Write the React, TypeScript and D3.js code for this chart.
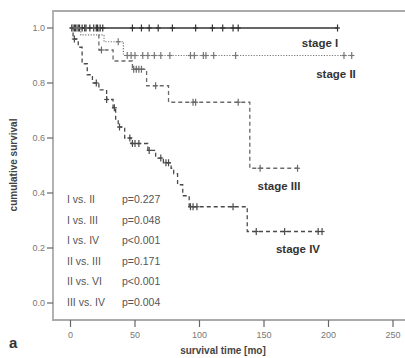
import React from 'react';
import { scaleLinear, line, curveStepAfter } from 'd3';

// survival steps: [time (mo), cumulative survival from that time on]
const stage1Steps = [[0, 1.0]];
const stage1End = 207;
const stage1Censor = [1, 3, 4, 6, 7, 9, 11, 12, 15, 18, 20, 21, 23, 25, 48, 55, 61, 68, 79, 97, 110, 118, 126, 130, 207];

const stage2Steps = [[0, 1.0], [8, 0.975], [26, 0.95], [41, 0.9]];
const stage2End = 220;
const stage2Censor = [2, 5, 37, 44, 47, 50, 56, 60, 65, 70, 77, 93, 96, 103, 105, 111, 128, 212, 218];

const stage3Steps = [[0, 1.0], [22, 0.92], [33, 0.88], [48, 0.85], [59, 0.79], [76, 0.73], [139, 0.49]];
const stage3End = 176;
const stage3Censor = [24, 49, 51, 53, 55, 66, 95, 97, 130, 147, 176];

const stage4Steps = [
  [0, 1.0], [2, 0.96], [6, 0.93], [9, 0.87], [13, 0.83], [17, 0.8], [22, 0.775], [28, 0.74],
  [33, 0.71], [35, 0.665], [37, 0.64], [42, 0.6], [47, 0.58], [60, 0.555], [66, 0.527],
  [72, 0.51], [78, 0.49], [80, 0.47], [83, 0.43], [87, 0.39], [92, 0.35], [137, 0.26],
];
const stage4End = 195;
const stage4Censor = [3, 20, 28, 34, 38, 46, 48, 50, 53, 61, 70, 74, 76, 93, 95, 98, 126, 144, 166, 192, 195];

const xTicks = [0, 50, 100, 150, 200, 250];
const yTicks = [0, 0.2, 0.4, 0.6, 0.8, 1.0];

const comparisons = ['I vs. II', 'I vs. III', 'I vs. IV', 'II vs. III', 'II vs. VI', 'III vs. IV'];
const pValues = ['p=0.227', 'p=0.048', 'p<0.001', 'p=0.171', 'p<0.001', 'p=0.004'];

const curves = [
  { name: 'stage I', steps: stage1Steps, end: stage1End, censor: stage1Censor, color: '#333', dash: null, width: 1.5 },
  { name: 'stage II', steps: stage2Steps, end: stage2End, censor: stage2Censor, color: '#777', dash: '1.2,1.5', width: 1.2 },
  { name: 'stage III', steps: stage3Steps, end: stage3End, censor: stage3Censor, color: '#6a6a6a', dash: '4,3', width: 1.3 },
  { name: 'stage IV', steps: stage4Steps, end: stage4End, censor: stage4Censor, color: '#4a4a4a', dash: '4,3', width: 1.3 },
];

const labels = [
  { text: 'stage I', x: 320, y: 47 },
  { text: 'stage II', x: 336, y: 78 },
  { text: 'stage III', x: 279, y: 190 },
  { text: 'stage IV', x: 298, y: 253 },
];

export default function App() {
  const x = scaleLinear().domain([0, 250]).range([70.5, 393]);
  const y = scaleLinear().domain([0, 1]).range([303, 28]);

  const path = line<number[]>()
    .x(d => x(d[0]))
    .y(d => y(d[1]))
    .curve(curveStepAfter);

  const survAt = (steps: number[][], t: number) => {
    let s = steps[0][1];
    steps.forEach(d => { if (d[0] <= t) s = d[1]; });
    return s;
  };

  return (
    <svg width={405} height={358} style={{ position: 'fixed', left: 0, top: 0, background: '#fff' }}
      fontFamily="Liberation Sans, Arial, sans-serif">
      {/* frame */}
      <path d="M405,11 H53 V320 H405" fill="none" stroke="#aaa" strokeWidth={1.8} />

      {/* y axis */}
      {yTicks.map(t => (
        <g key={t}>
          <line x1={47} x2={53} y1={y(t)} y2={y(t)} stroke="#666" strokeWidth={1.2} />
          <text x={45} y={y(t) + 3.2} fontSize={9} fill="#777" textAnchor="end">{t.toFixed(1)}</text>
        </g>
      ))}
      {/* x axis */}
      {xTicks.map(t => (
        <g key={t}>
          <line x1={x(t)} x2={x(t)} y1={320} y2={327} stroke="#666" strokeWidth={1.2} />
          <text x={x(t)} y={338} fontSize={9} fill="#777" textAnchor="middle">{t}</text>
        </g>
      ))}

      <text transform="translate(17,165) rotate(-90)" fontSize={10} fontWeight="bold" fill="#444" textAnchor="middle">cumulative survival</text>
      <text x={223} y={354} fontSize={10} fontWeight="bold" fill="#444" textAnchor="middle">survival time [mo]</text>
      <text x={9} y={348} fontSize={15} fontWeight="bold" fill="#333">a</text>

      {/* curves */}
      {curves.map(c => {
        const pts = [...c.steps, [c.end, c.steps[c.steps.length - 1][1]]];
        return (
          <g key={c.name}>
            <path d={path(pts) || ''} fill="none" stroke={c.color} strokeWidth={c.width}
              strokeDasharray={c.dash || undefined} />
            {c.censor.map((t, i) => {
              const cx = x(t);
              const cy = y(survAt(c.steps, t));
              return (
                <g key={i} stroke={c.color} strokeWidth={1.2}>
                  <line x1={cx} x2={cx} y1={cy - 3.5} y2={cy + 3.5} />
                  <line x1={cx - 2.5} x2={cx + 2.5} y1={cy} y2={cy} />
                </g>
              );
            })}
          </g>
        );
      })}

      {labels.map(l => (
        <text key={l.text} x={l.x} y={l.y} fontSize={11.5} fontWeight="bold" fill="#333" textAnchor="middle">{l.text}</text>
      ))}

      {comparisons.map((c, i) => (
        <g key={c}>
          <text x={67} y={203 + i * 20.6} fontSize={10.5} fill="#555">{c}</text>
          <text x={122} y={203 + i * 20.6} fontSize={10.5} fill="#555">{pValues[i]}</text>
        </g>
      ))}
    </svg>
  );
}
